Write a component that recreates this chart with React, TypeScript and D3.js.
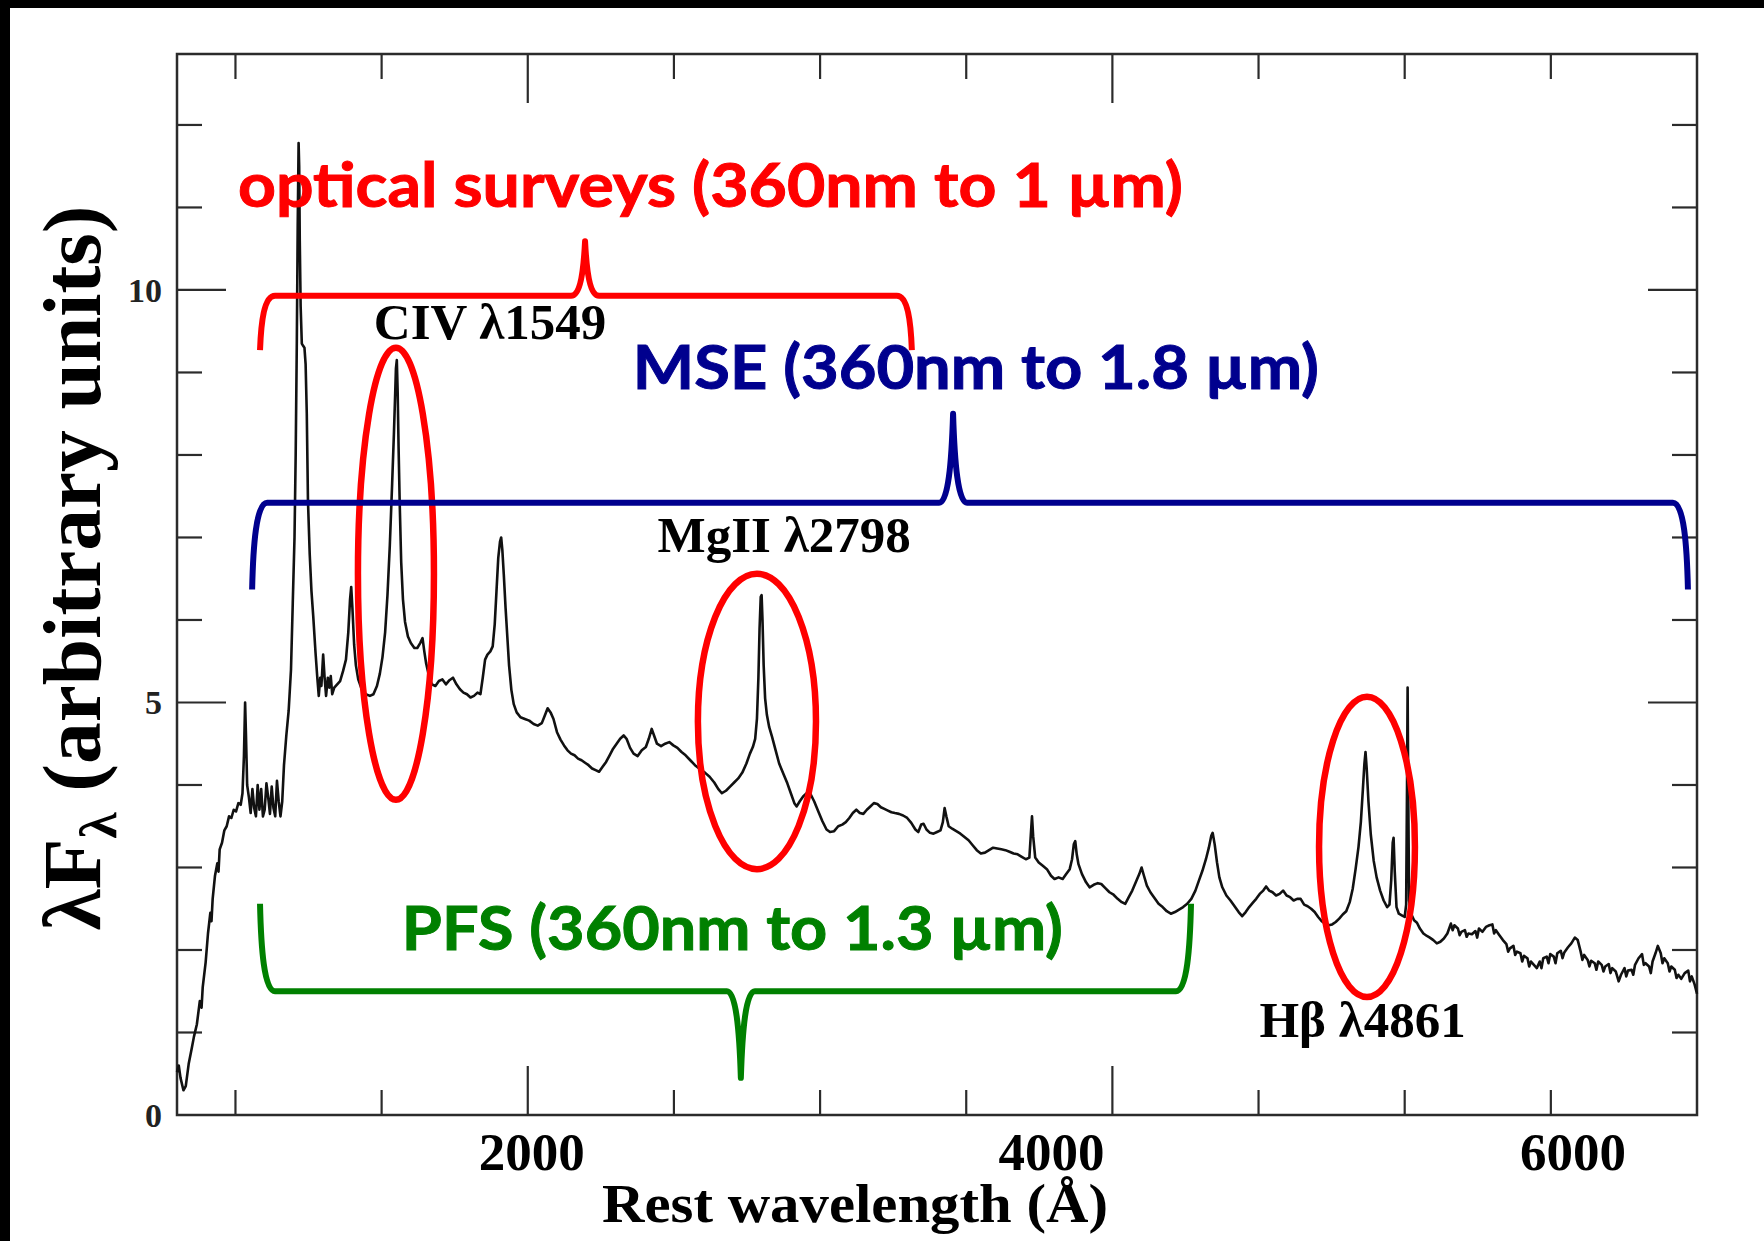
import React from "react";
import * as d3 from "d3";

const W = 1764;
const H = 1241;

// composite quasar spectrum, [rest wavelength (Å), λF_λ (arbitrary units)]
const farUV: [number, number][] = [
  [800, 0.52], [806, 0.6], [812, 0.45], [822, 0.3], [830, 0.35], [840, 0.62], [850, 0.8], [858, 0.95],
  [868, 1.1], [878, 1.38], [884, 1.3], [888, 1.55], [898, 1.85], [906, 2.2], [914, 2.45], [918, 2.35], [922, 2.62], [930, 2.9],
  [938, 3.05], [942, 2.95], [946, 3.22], [954, 3.3], [962, 3.45], [970, 3.5], [978, 3.62], [986, 3.6], [994, 3.7],
  [1002, 3.68], [1010, 3.78], [1018, 3.76], [1024, 3.9], [1029, 4.35], [1033, 5.0], [1036, 4.6], [1040, 4.0],
  [1046, 3.85], [1052, 3.66], [1058, 3.95], [1064, 3.72], [1070, 3.62], [1076, 4.0], [1082, 3.7], [1088, 3.95],
  [1094, 3.62], [1100, 3.7], [1106, 4.02], [1112, 3.85], [1118, 3.65], [1124, 3.98], [1130, 3.72], [1136, 3.62],
  [1142, 4.05], [1148, 3.8], [1154, 3.62], [1160, 3.8], [1166, 4.24], [1174, 4.6], [1182, 4.9], [1190, 5.4],
];

const lyaToCiv: [number, number][] = [
  [1196, 6.2], [1202, 7.0], [1206, 8.0], [1210, 9.4], [1213, 10.8], [1216, 11.78], [1218, 11.5], [1220, 10.6],
  [1223, 9.8], [1227, 9.35], [1232, 9.32], [1236, 9.3], [1240, 9.1], [1244, 8.5], [1248, 7.45], [1254, 6.8],
  [1260, 6.35], [1266, 6.05], [1274, 5.6], [1280, 5.3], [1285, 5.08], [1290, 5.3], [1294, 5.2], [1300, 5.58],
  [1305, 5.3], [1310, 5.08], [1316, 5.3], [1321, 5.18], [1326, 5.32], [1331, 5.1], [1338, 5.18], [1348, 5.22],
  [1358, 5.26], [1368, 5.38], [1378, 5.52], [1386, 5.85], [1392, 6.25], [1396, 6.4], [1400, 6.15], [1406, 5.7],
  [1412, 5.45], [1420, 5.28], [1432, 5.16], [1446, 5.1], [1460, 5.08], [1472, 5.1], [1484, 5.2], [1494, 5.35],
  [1503, 5.55], [1512, 5.85], [1520, 6.3], [1528, 6.9], [1536, 7.65], [1542, 8.25], [1546, 8.7], [1549, 9.05],
  [1552, 9.15], [1555, 8.75], [1558, 8.1], [1562, 7.4], [1567, 6.7], [1573, 6.25], [1580, 5.98], [1590, 5.8],
  [1600, 5.72], [1612, 5.66], [1622, 5.66], [1632, 5.72], [1640, 5.78], [1646, 5.62], [1652, 5.48], [1662, 5.32],
  [1672, 5.22], [1684, 5.2], [1696, 5.26], [1708, 5.28], [1720, 5.22], [1732, 5.27], [1744, 5.3], [1756, 5.22],
  [1768, 5.16], [1780, 5.12], [1792, 5.1], [1804, 5.06], [1816, 5.08], [1828, 5.12], [1838, 5.1], [1846, 5.3],
];

const ciiiToMgii: [number, number][] = [
  [1854, 5.52], [1862, 5.58], [1872, 5.62], [1880, 5.68], [1887, 5.95], [1893, 6.35], [1899, 6.75], [1905, 6.95],
  [1909, 7.0], [1913, 6.85], [1918, 6.55], [1924, 6.15], [1930, 5.8], [1936, 5.45], [1944, 5.15], [1952, 4.98],
  [1962, 4.88], [1975, 4.82], [1990, 4.8], [2005, 4.78], [2020, 4.74], [2034, 4.72], [2048, 4.75], [2058, 4.84],
  [2068, 4.93], [2078, 4.88], [2088, 4.8], [2100, 4.64], [2112, 4.55], [2124, 4.48], [2136, 4.42], [2148, 4.38],
  [2160, 4.36], [2172, 4.32], [2184, 4.3], [2196, 4.27], [2208, 4.24], [2220, 4.2], [2232, 4.18], [2244, 4.16],
  [2256, 4.22], [2268, 4.28], [2280, 4.36], [2292, 4.44], [2304, 4.5], [2316, 4.56], [2328, 4.6], [2338, 4.56],
  [2350, 4.45], [2362, 4.38], [2376, 4.35], [2390, 4.42], [2404, 4.46], [2414, 4.56], [2424, 4.68], [2432, 4.6],
  [2442, 4.5], [2456, 4.47], [2470, 4.5], [2484, 4.52], [2498, 4.48], [2512, 4.45], [2526, 4.4], [2540, 4.36],
  [2556, 4.3], [2572, 4.24], [2590, 4.19], [2606, 4.15], [2622, 4.1], [2638, 4.03], [2652, 3.95], [2664, 3.9],
  [2678, 3.93], [2692, 3.98], [2706, 4.03], [2720, 4.08], [2734, 4.15], [2748, 4.26], [2760, 4.38], [2770, 4.46],
  [2778, 4.56], [2784, 4.8], [2789, 5.3], [2793, 5.9], [2797, 6.28], [2800, 6.3], [2803, 6.0], [2807, 5.45],
  [2812, 5.05], [2818, 4.85], [2826, 4.7], [2836, 4.58], [2848, 4.42], [2860, 4.26], [2874, 4.14], [2888, 4.02],
];

const nearUV: [number, number][] = [
  [2900, 3.9], [2912, 3.78], [2920, 3.74], [2930, 3.8], [2942, 3.86], [2954, 3.9], [2966, 3.9], [2980, 3.8],
  [2994, 3.68], [3008, 3.56], [3022, 3.46], [3034, 3.43], [3048, 3.44], [3062, 3.5], [3076, 3.52], [3088, 3.55],
  [3100, 3.6], [3112, 3.66], [3124, 3.7], [3136, 3.66], [3148, 3.65], [3160, 3.7], [3172, 3.74], [3184, 3.78],
  [3196, 3.77], [3208, 3.73], [3220, 3.71], [3232, 3.69], [3244, 3.67], [3256, 3.66], [3270, 3.65], [3284, 3.63],
  [3298, 3.6], [3312, 3.54], [3326, 3.46], [3336, 3.43], [3346, 3.52], [3354, 3.53], [3364, 3.46], [3376, 3.42],
  [3388, 3.41], [3400, 3.43], [3412, 3.45], [3420, 3.55], [3426, 3.72], [3432, 3.62], [3440, 3.5], [3452, 3.47],
  [3466, 3.44], [3480, 3.41], [3494, 3.37], [3508, 3.33], [3522, 3.27], [3536, 3.21], [3550, 3.17], [3564, 3.18],
  [3578, 3.21], [3592, 3.24], [3606, 3.23], [3620, 3.22], [3634, 3.21], [3648, 3.19], [3662, 3.17], [3676, 3.16],
  [3690, 3.13], [3704, 3.1], [3716, 3.12], [3721, 3.4], [3725, 3.62], [3729, 3.38], [3736, 3.12], [3748, 3.06],
  [3762, 3.02], [3776, 2.98], [3790, 2.9], [3802, 2.86], [3816, 2.88], [3830, 2.86], [3842, 2.92], [3854, 2.98],
  [3862, 3.1], [3868, 3.28], [3873, 3.32], [3878, 3.16], [3884, 3.04], [3896, 2.92], [3910, 2.82], [3922, 2.76],
  [3936, 2.79], [3950, 2.81], [3962, 2.8], [3976, 2.75], [3990, 2.7], [4004, 2.67], [4018, 2.62], [4032, 2.58],
  [4044, 2.56], [4056, 2.64], [4068, 2.72], [4080, 2.82], [4092, 2.92], [4100, 3.0], [4108, 2.9], [4118, 2.78],
  [4130, 2.7], [4144, 2.63], [4158, 2.56], [4172, 2.52], [4186, 2.47], [4200, 2.44], [4214, 2.46], [4228, 2.49],
  [4242, 2.52], [4256, 2.56], [4270, 2.62], [4284, 2.72], [4296, 2.84], [4308, 2.96], [4320, 3.1], [4330, 3.24],
  [4338, 3.38], [4343, 3.42], [4350, 3.28], [4358, 3.06], [4366, 2.88], [4376, 2.76], [4390, 2.66], [4404, 2.6],
];

const optical: [number, number][] = [
  [4418, 2.53], [4432, 2.46], [4444, 2.41], [4456, 2.46], [4468, 2.52], [4480, 2.57], [4492, 2.62], [4504, 2.68],
  [4516, 2.72], [4526, 2.77], [4536, 2.72], [4548, 2.7], [4560, 2.66], [4572, 2.68], [4584, 2.72], [4596, 2.66],
  [4608, 2.64], [4620, 2.6], [4632, 2.62], [4644, 2.62], [4656, 2.55], [4668, 2.53], [4680, 2.5], [4692, 2.46],
  [4704, 2.4], [4716, 2.35], [4728, 2.32], [4740, 2.3], [4752, 2.31], [4764, 2.34], [4776, 2.38], [4788, 2.43],
  [4800, 2.47], [4812, 2.58], [4822, 2.74], [4832, 2.98], [4842, 3.25], [4850, 3.55], [4857, 3.95], [4862, 4.25],
  [4866, 4.4], [4870, 4.2], [4876, 3.8], [4884, 3.4], [4894, 3.08], [4904, 2.88], [4916, 2.72], [4928, 2.6],
  [4940, 2.52], [4948, 2.55], [4954, 2.85], [4959, 3.3], [4962, 3.36], [4966, 2.95], [4972, 2.52], [4980, 2.44],
  [4990, 2.42], [5000, 2.4], [5005, 2.55], [5008, 4.0], [5010, 5.18], [5012, 4.0], [5015, 2.6], [5022, 2.44],
  [5032, 2.36], [5042, 2.33], [5052, 2.26], [5064, 2.2], [5076, 2.17], [5086, 2.15], [5098, 2.12], [5110, 2.08],
  [5122, 2.1], [5134, 2.14], [5146, 2.2], [5158, 2.32], [5164, 2.24], [5170, 2.3], [5182, 2.26], [5188, 2.18], [5194, 2.22], [5206, 2.24],
  [5212, 2.16], [5218, 2.2], [5230, 2.19], [5242, 2.23], [5248, 2.15], [5254, 2.26], [5266, 2.22], [5278, 2.28], [5290, 2.3], [5300, 2.31],
  [5306, 2.2], [5312, 2.24], [5324, 2.18], [5336, 2.12], [5348, 2.07], [5354, 1.98], [5360, 2.02], [5372, 2.05], [5378, 1.94], [5384, 1.98], [5396, 1.96],
  [5402, 1.86], [5408, 1.93], [5420, 1.9], [5426, 1.8], [5432, 1.86], [5442, 1.82], [5452, 1.78], [5462, 1.86], [5468, 1.78], [5474, 1.9], [5486, 1.92],
  [5492, 1.84], [5498, 1.95], [5510, 1.92], [5516, 1.84], [5522, 1.96], [5534, 1.99], [5540, 1.9], [5546, 1.97], [5558, 2.03], [5570, 2.08], [5582, 2.15],
  [5592, 2.12], [5602, 1.98], [5608, 1.88], [5614, 1.94], [5626, 1.88], [5632, 1.8], [5638, 1.87], [5650, 1.84], [5656, 1.76], [5662, 1.86], [5674, 1.82],
  [5680, 1.74], [5686, 1.8], [5698, 1.83], [5704, 1.72], [5710, 1.78], [5722, 1.74], [5732, 1.62], [5740, 1.7], [5752, 1.78], [5758, 1.68], [5764, 1.75],
  [5776, 1.76], [5782, 1.7], [5788, 1.82], [5800, 1.9], [5812, 1.95], [5818, 1.82], [5824, 1.84], [5836, 1.8], [5842, 1.72], [5848, 1.86], [5858, 1.96],
  [5866, 2.05], [5876, 1.96], [5882, 1.84], [5888, 1.9], [5900, 1.84], [5906, 1.74], [5912, 1.8], [5924, 1.76], [5930, 1.66], [5936, 1.7], [5946, 1.65],
  [5958, 1.72], [5970, 1.75], [5976, 1.62], [5982, 1.68], [5992, 1.58], [6000, 1.47],
];

const spectrum = [...farUV, ...lyaToCiv, ...ciiiToMgii, ...nearUV, ...optical];

const xTickValues = [1000, 1500, 2000, 2500, 3000, 3500, 4000, 4500, 5000, 5500];
const xMajorTicks = [2000, 4000];
const xTickLabels = ["2000", "4000", "6000"];
const yTickValues = [1, 2, 3, 4, 5, 6, 7, 8, 9, 10, 11, 12];
const yMajorTicks = [5, 10];
const yTickLabels = ["0", "5", "10"];

// emission lines circled on the spectrum (centre and half-axes in data units)
const circledLines = [
  { lambda: 1549, value: 6.56, dLambda: 130, dValue: 2.74 },
  { lambda: 2784, value: 4.77, dLambda: 202, dValue: 1.79 },
  { lambda: 4871, value: 3.25, dLambda: 164, dValue: 1.82 },
];

const lineNames = [
  { text: "CIV λ1549", lambda: 1871, value: 9.41 },
  { text: "MgII λ2798", lambda: 2877, value: 6.82 },
  { text: "Hβ λ4861", lambda: 4856, value: 0.945 },
];

// wavelength coverage brackets
const surveys = [
  { label: "optical surveys (360nm to 1 µm)", color: "#ff0000", from: 1084, to: 3314, tip: 2196,
    bar: 9.93, ends: 9.27, peak: 10.59, labelAt: 2625, labelValue: 11.0, labelWidth: 945 },
  { label: "MSE (360nm to 1.8 µm)", color: "#00008e", from: 1057, to: 5969, tip: 3455,
    bar: 7.42, ends: 6.37, peak: 8.5, labelAt: 3533, labelValue: 8.8, labelWidth: 686 },
  { label: "PFS (360nm to 1.3 µm)", color: "#008000", from: 1084, to: 4269, tip: 2729,
    bar: 1.5, ends: 2.56, peak: 0.45, labelAt: 2700, labelValue: 2.0, labelWidth: 661 },
];

const margin = { left: 177, right: 67, top: 54, bottom: 126 };
const serif = "'Liberation Serif', 'Times New Roman', serif";
const sans = "Lato, 'Open Sans', sans-serif";
const axisColor = "#2b2b2b";

function bracePath(x0: number, x1: number, xm: number, yBar: number, yEnd: number, yTip: number) {
  const r = 15;
  const w = 14;
  const k = (yTip - yBar) * 0.45;
  return [
    `M${x0},${yEnd}`,
    `C${x0 + 1},${yEnd + (yBar - yEnd) * 0.5} ${x0 + 4},${yBar} ${x0 + r},${yBar}`,
    `L${xm - w},${yBar}`,
    `C${xm - w * 0.35},${yBar} ${xm - 1.5},${yBar + k} ${xm},${yTip}`,
    `C${xm + 1.5},${yBar + k} ${xm + w * 0.35},${yBar} ${xm + w},${yBar}`,
    `L${x1 - r},${yBar}`,
    `C${x1 - 4},${yBar} ${x1 - 1},${yEnd + (yBar - yEnd) * 0.5} ${x1},${yEnd}`,
  ].join(" ");
}

export default function App() {
  const x = d3.scaleLinear().domain([800, 6000]).range([margin.left, W - margin.right]);
  const y = d3.scaleLinear().domain([0, 12.86]).range([H - margin.bottom, margin.top]);
  const [x0, x1] = x.range();
  const [y0, y1] = y.range();

  const line = d3
    .line<[number, number]>()
    .x((d) => x(d[0]))
    .y((d) => y(d[1]));

  const minor = 25;
  const major = 49;
  // the slide's overlaid wavelength labels sit left of their ticks
  const xLabelNudge = [4, -61, -124];

  return (
    <svg width={W} height={H} style={{ position: "absolute", left: 0, top: 0, background: "#fff" }}>
      <rect x={0} y={0} width={W} height={H} fill="#fff" />
      <rect x={0} y={0} width={W} height={8} fill="#000" />
      <rect x={0} y={0} width={10} height={H} fill="#000" />

      {/* frame and ticks */}
      <rect x={x0} y={y1} width={x1 - x0} height={y0 - y1} fill="none" stroke={axisColor} strokeWidth={2.5} />
      {xTickValues.map((t) => {
        const len = xMajorTicks.includes(t) ? major : minor;
        return (
          <g key={`xt${t}`} stroke={axisColor} strokeWidth={2.2}>
            <line x1={x(t)} x2={x(t)} y1={y0} y2={y0 - len} />
            <line x1={x(t)} x2={x(t)} y1={y1} y2={y1 + len} />
          </g>
        );
      })}
      {yTickValues.map((t) => {
        const len = yMajorTicks.includes(t) ? major : minor;
        return (
          <g key={`yt${t}`} stroke={axisColor} strokeWidth={2.2}>
            <line x1={x0} x2={x0 + len} y1={y(t)} y2={y(t)} />
            <line x1={x1} x2={x1 - len} y1={y(t)} y2={y(t)} />
          </g>
        );
      })}
      {yTickLabels.map((t) => (
        <text key={`yl${t}`} x={x0 - 15} y={y(+t)} dy="0.35em" textAnchor="end"
          fontFamily={serif} fontWeight="bold" fontSize={34} fill="#222">
          {t}
        </text>
      ))}
      {xTickLabels.map((t, i) => (
        <text key={`xl${t}`} x={x(+t) + xLabelNudge[i]} y={1170} textAnchor="middle"
          fontFamily={serif} fontWeight="bold" fontSize={53} fill="#000">
          {t}
        </text>
      ))}

      {/* axis titles */}
      <text x={855} y={1222} textAnchor="middle" fontFamily={serif} fontWeight="bold" fontSize={55}
        textLength={506} lengthAdjust="spacingAndGlyphs" fill="#000">
        Rest wavelength (Å)
      </text>
      <text transform="translate(100,568) rotate(-90)" textAnchor="middle" fontFamily={serif}
        fontWeight="bold" fontSize={82} textLength={725} lengthAdjust="spacingAndGlyphs" fill="#000">
        λF<tspan fontSize={52} dy={16}>λ</tspan><tspan dy={-16}> (arbitrary units)</tspan>
      </text>

      {/* spectrum */}
      <path d={line(spectrum) ?? ""} fill="none" stroke="#111" strokeWidth={2.6} strokeLinejoin="round" />

      {/* circled emission lines */}
      {circledLines.map((e, i) => (
        <ellipse key={`e${i}`} cx={x(e.lambda)} cy={y(e.value)}
          rx={x(e.lambda + e.dLambda) - x(e.lambda)} ry={y(0) - y(e.dValue)}
          fill="none" stroke="#ff0000" strokeWidth={6.5} />
      ))}
      {lineNames.map((l) => (
        <text key={l.text} x={x(l.lambda)} y={y(l.value)} textAnchor="middle" fontFamily={serif}
          fontWeight="bold" fontSize={51} fill="#000">
          {l.text}
        </text>
      ))}

      {/* survey coverage brackets */}
      {surveys.map((s) => (
        <g key={s.label}>
          <path d={bracePath(x(s.from), x(s.to), x(s.tip), y(s.bar), y(s.ends), y(s.peak))}
            fill="none" stroke={s.color} strokeWidth={6} strokeLinejoin="round" />
          <text x={x(s.labelAt)} y={y(s.labelValue)} textAnchor="middle" fontFamily={sans}
            fontWeight="bold" fontSize={62} fill={s.color} stroke={s.color} strokeWidth={1}
            textLength={s.labelWidth} lengthAdjust="spacingAndGlyphs">
            {s.label}
          </text>
        </g>
      ))}
    </svg>
  );
}
